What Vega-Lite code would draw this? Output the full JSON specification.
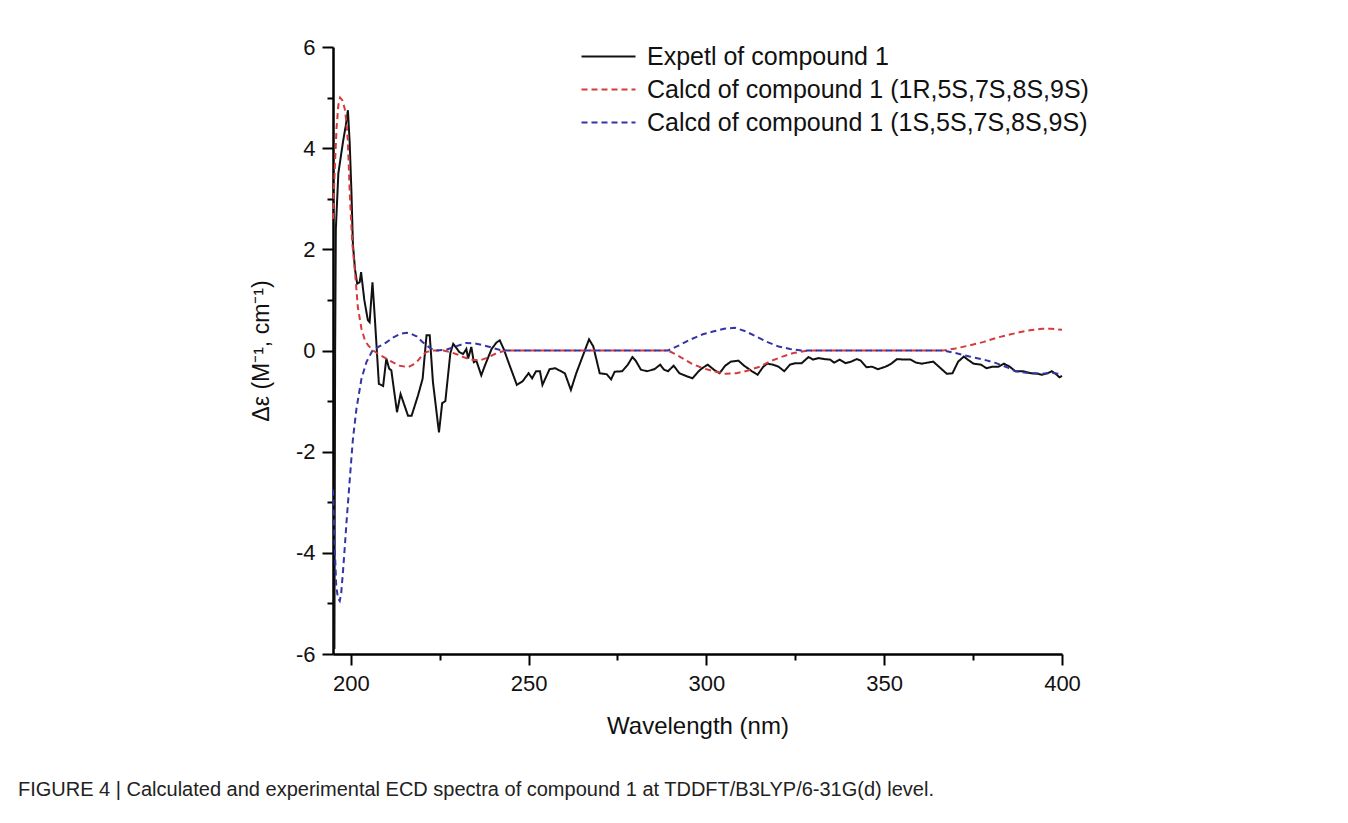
{
  "$schema": "https://vega.github.io/schema/vega-lite/v6.json",
  "width": 729,
  "height": 607,
  "autosize": {"type": "none"},
  "padding": {"left": 333, "top": 47, "right": 286, "bottom": 169},
  "background": "white",
  "config": {
    "view": {"stroke": null},
    "font": "Liberation Sans",
    "axis": {"grid": false, "domainColor": "#000", "tickColor": "#000", "labelColor": "#111", "titleColor": "#111", "labelFont": "Liberation Sans", "titleFont": "Liberation Sans", "titleFontWeight": "normal", "domainWidth": 2.5, "tickWidth": 2, "labelOverlap": false, "labelFlush": false}
  },
  "title": {
    "text": "FIGURE 4 | Calculated and experimental ECD spectra of compound 1 at TDDFT/B3LYP/6-31G(d) level.",
    "orient": "bottom",
    "anchor": "start",
    "frame": "group",
    "dx": -315,
    "offset": 42,
    "fontSize": 20,
    "fontWeight": "normal",
    "font": "Liberation Sans",
    "color": "#222"
  },
  "datasets": {
    "expt": [
      {"wavelength": 195.4, "delta": -5.9}, {"wavelength": 195.6, "delta": 0.0}, {"wavelength": 195.8, "delta": 2.4},
      {"wavelength": 196.5, "delta": 3.5}, {"wavelength": 197.8, "delta": 4.12}, {"wavelength": 198.6, "delta": 4.45},
      {"wavelength": 199.2, "delta": 4.75}, {"wavelength": 199.7, "delta": 4.1}, {"wavelength": 200.2, "delta": 3.1},
      {"wavelength": 200.6, "delta": 2.1}, {"wavelength": 201.2, "delta": 1.6}, {"wavelength": 201.8, "delta": 1.32},
      {"wavelength": 202.5, "delta": 1.35}, {"wavelength": 202.9, "delta": 1.55}, {"wavelength": 203.8, "delta": 1.0},
      {"wavelength": 204.8, "delta": 0.6}, {"wavelength": 205.3, "delta": 0.56}, {"wavelength": 206.1, "delta": 1.35},
      {"wavelength": 206.8, "delta": 0.6}, {"wavelength": 207.9, "delta": -0.66}, {"wavelength": 209.1, "delta": -0.7},
      {"wavelength": 210.0, "delta": -0.16}, {"wavelength": 210.8, "delta": -0.36}, {"wavelength": 211.4, "delta": -0.39},
      {"wavelength": 213.0, "delta": -1.22}, {"wavelength": 214.0, "delta": -0.86}, {"wavelength": 216.1, "delta": -1.29},
      {"wavelength": 217.1, "delta": -1.29}, {"wavelength": 218.9, "delta": -0.89}, {"wavelength": 220.2, "delta": -0.56},
      {"wavelength": 221.3, "delta": 0.3}, {"wavelength": 222.2, "delta": 0.3}, {"wavelength": 223.1, "delta": -0.62},
      {"wavelength": 224.8, "delta": -1.62}, {"wavelength": 225.7, "delta": -1.04}, {"wavelength": 226.6, "delta": -1.0},
      {"wavelength": 228.0, "delta": -0.05}, {"wavelength": 228.8, "delta": 0.13}, {"wavelength": 229.5, "delta": 0.07},
      {"wavelength": 230.5, "delta": -0.03}, {"wavelength": 231.6, "delta": -0.07}, {"wavelength": 232.5, "delta": 0.03},
      {"wavelength": 233.0, "delta": -0.16}, {"wavelength": 233.9, "delta": 0.07}, {"wavelength": 234.6, "delta": -0.23},
      {"wavelength": 235.3, "delta": -0.2}, {"wavelength": 236.7, "delta": -0.49}, {"wavelength": 237.7, "delta": -0.3},
      {"wavelength": 239.6, "delta": 0.03}, {"wavelength": 241.0, "delta": 0.16}, {"wavelength": 241.9, "delta": 0.2},
      {"wavelength": 243.0, "delta": 0.03}, {"wavelength": 244.7, "delta": -0.3}, {"wavelength": 246.7, "delta": -0.68},
      {"wavelength": 248.3, "delta": -0.61}, {"wavelength": 250.0, "delta": -0.45}, {"wavelength": 251.0, "delta": -0.55},
      {"wavelength": 252.1, "delta": -0.41}, {"wavelength": 253.2, "delta": -0.41}, {"wavelength": 253.9, "delta": -0.68},
      {"wavelength": 255.9, "delta": -0.37}, {"wavelength": 257.5, "delta": -0.35}, {"wavelength": 259.1, "delta": -0.41},
      {"wavelength": 260.2, "delta": -0.45}, {"wavelength": 261.9, "delta": -0.78}, {"wavelength": 263.4, "delta": -0.45},
      {"wavelength": 267.0, "delta": 0.22}, {"wavelength": 268.2, "delta": 0.08}, {"wavelength": 270.0, "delta": -0.45},
      {"wavelength": 272.0, "delta": -0.47}, {"wavelength": 273.2, "delta": -0.57}, {"wavelength": 274.2, "delta": -0.42},
      {"wavelength": 276.3, "delta": -0.41}, {"wavelength": 277.9, "delta": -0.28}, {"wavelength": 279.2, "delta": -0.13},
      {"wavelength": 280.1, "delta": -0.2}, {"wavelength": 281.6, "delta": -0.38}, {"wavelength": 283.3, "delta": -0.41},
      {"wavelength": 285.4, "delta": -0.37}, {"wavelength": 287.0, "delta": -0.28}, {"wavelength": 288.1, "delta": -0.38},
      {"wavelength": 289.2, "delta": -0.41}, {"wavelength": 290.8, "delta": -0.3}, {"wavelength": 292.4, "delta": -0.45},
      {"wavelength": 294.5, "delta": -0.51}, {"wavelength": 296.1, "delta": -0.55}, {"wavelength": 297.8, "delta": -0.41},
      {"wavelength": 298.8, "delta": -0.35}, {"wavelength": 300.4, "delta": -0.28}, {"wavelength": 302.1, "delta": -0.38},
      {"wavelength": 303.7, "delta": -0.45}, {"wavelength": 305.3, "delta": -0.3}, {"wavelength": 306.9, "delta": -0.22},
      {"wavelength": 309.0, "delta": -0.2}, {"wavelength": 310.6, "delta": -0.3}, {"wavelength": 312.8, "delta": -0.41},
      {"wavelength": 314.4, "delta": -0.48}, {"wavelength": 316.0, "delta": -0.32}, {"wavelength": 317.1, "delta": -0.26},
      {"wavelength": 318.7, "delta": -0.28}, {"wavelength": 320.3, "delta": -0.32}, {"wavelength": 321.9, "delta": -0.41},
      {"wavelength": 323.5, "delta": -0.28}, {"wavelength": 325.1, "delta": -0.25}, {"wavelength": 326.8, "delta": -0.25},
      {"wavelength": 328.7, "delta": -0.13}, {"wavelength": 330.0, "delta": -0.18}, {"wavelength": 331.6, "delta": -0.15},
      {"wavelength": 333.2, "delta": -0.17}, {"wavelength": 334.8, "delta": -0.18}, {"wavelength": 335.9, "delta": -0.24},
      {"wavelength": 337.5, "delta": -0.18}, {"wavelength": 339.1, "delta": -0.25}, {"wavelength": 340.7, "delta": -0.22},
      {"wavelength": 342.3, "delta": -0.17}, {"wavelength": 343.4, "delta": -0.2}, {"wavelength": 345.0, "delta": -0.33},
      {"wavelength": 346.6, "delta": -0.32}, {"wavelength": 348.2, "delta": -0.37}, {"wavelength": 350.4, "delta": -0.32},
      {"wavelength": 352.0, "delta": -0.26}, {"wavelength": 353.6, "delta": -0.17}, {"wavelength": 355.8, "delta": -0.18},
      {"wavelength": 357.4, "delta": -0.18}, {"wavelength": 359.0, "delta": -0.24}, {"wavelength": 360.6, "delta": -0.26},
      {"wavelength": 362.2, "delta": -0.24}, {"wavelength": 363.8, "delta": -0.22}, {"wavelength": 365.4, "delta": -0.32},
      {"wavelength": 367.6, "delta": -0.46}, {"wavelength": 369.2, "delta": -0.45}, {"wavelength": 370.8, "delta": -0.22},
      {"wavelength": 372.4, "delta": -0.12}, {"wavelength": 373.5, "delta": -0.18}, {"wavelength": 375.1, "delta": -0.26},
      {"wavelength": 377.2, "delta": -0.28}, {"wavelength": 378.8, "delta": -0.35}, {"wavelength": 380.5, "delta": -0.32},
      {"wavelength": 382.1, "delta": -0.32}, {"wavelength": 383.7, "delta": -0.26}, {"wavelength": 385.3, "delta": -0.32},
      {"wavelength": 386.9, "delta": -0.41}, {"wavelength": 389.1, "delta": -0.41}, {"wavelength": 391.2, "delta": -0.45},
      {"wavelength": 393.3, "delta": -0.46}, {"wavelength": 394.4, "delta": -0.48}, {"wavelength": 396.0, "delta": -0.45},
      {"wavelength": 397.1, "delta": -0.41}, {"wavelength": 398.2, "delta": -0.46}, {"wavelength": 399.3, "delta": -0.53},
      {"wavelength": 400.0, "delta": -0.5}
    ],
    "calcR": [
      {"wavelength": 195.0, "delta": 2.6}, {"wavelength": 195.5, "delta": 3.6}, {"wavelength": 196.0, "delta": 4.4},
      {"wavelength": 196.5, "delta": 4.85}, {"wavelength": 197.0, "delta": 5.0}, {"wavelength": 197.6, "delta": 4.95},
      {"wavelength": 198.3, "delta": 4.78}, {"wavelength": 198.8, "delta": 4.5}, {"wavelength": 199.2, "delta": 4.1},
      {"wavelength": 199.7, "delta": 3.13}, {"wavelength": 200.4, "delta": 2.14}, {"wavelength": 201.1, "delta": 1.62},
      {"wavelength": 201.6, "delta": 1.2}, {"wavelength": 202.0, "delta": 0.85}, {"wavelength": 203.0, "delta": 0.43},
      {"wavelength": 204.0, "delta": 0.2}, {"wavelength": 204.9, "delta": 0.1}, {"wavelength": 206.3, "delta": 0.0},
      {"wavelength": 208.0, "delta": -0.08}, {"wavelength": 210.0, "delta": -0.16}, {"wavelength": 212.0, "delta": -0.24},
      {"wavelength": 213.8, "delta": -0.3}, {"wavelength": 216.1, "delta": -0.33}, {"wavelength": 217.5, "delta": -0.28},
      {"wavelength": 218.9, "delta": -0.2}, {"wavelength": 220.0, "delta": -0.1}, {"wavelength": 221.3, "delta": -0.03},
      {"wavelength": 223.0, "delta": 0.0}, {"wavelength": 226.0, "delta": 0.0}, {"wavelength": 228.0, "delta": -0.03},
      {"wavelength": 230.0, "delta": -0.08}, {"wavelength": 232.0, "delta": -0.14}, {"wavelength": 234.5, "delta": -0.19},
      {"wavelength": 236.5, "delta": -0.19}, {"wavelength": 238.5, "delta": -0.14}, {"wavelength": 240.5, "delta": -0.07},
      {"wavelength": 242.5, "delta": -0.02}, {"wavelength": 244.0, "delta": 0.0}, {"wavelength": 289.2, "delta": 0.0},
      {"wavelength": 292.0, "delta": -0.1}, {"wavelength": 295.6, "delta": -0.25}, {"wavelength": 299.0, "delta": -0.35},
      {"wavelength": 302.1, "delta": -0.41}, {"wavelength": 305.3, "delta": -0.46}, {"wavelength": 308.5, "delta": -0.45},
      {"wavelength": 311.5, "delta": -0.4}, {"wavelength": 315.0, "delta": -0.32}, {"wavelength": 318.0, "delta": -0.21},
      {"wavelength": 321.4, "delta": -0.12}, {"wavelength": 324.5, "delta": -0.05}, {"wavelength": 327.8, "delta": -0.01},
      {"wavelength": 330.0, "delta": 0.0}, {"wavelength": 366.5, "delta": 0.0}, {"wavelength": 370.0, "delta": 0.04},
      {"wavelength": 374.0, "delta": 0.1}, {"wavelength": 378.0, "delta": 0.17}, {"wavelength": 381.5, "delta": 0.25},
      {"wavelength": 385.0, "delta": 0.31}, {"wavelength": 388.0, "delta": 0.36}, {"wavelength": 391.0, "delta": 0.4},
      {"wavelength": 394.4, "delta": 0.43}, {"wavelength": 397.0, "delta": 0.43}, {"wavelength": 400.0, "delta": 0.41}
    ],
    "calcS": [
      {"wavelength": 195.0, "delta": -2.75}, {"wavelength": 195.5, "delta": -3.9}, {"wavelength": 195.9, "delta": -4.65},
      {"wavelength": 196.4, "delta": -4.9}, {"wavelength": 196.9, "delta": -4.95}, {"wavelength": 197.3, "delta": -4.8},
      {"wavelength": 197.8, "delta": -4.38}, {"wavelength": 198.3, "delta": -3.9}, {"wavelength": 198.8, "delta": -3.39},
      {"wavelength": 199.5, "delta": -2.75}, {"wavelength": 200.1, "delta": -2.2}, {"wavelength": 200.6, "delta": -1.75},
      {"wavelength": 201.6, "delta": -1.15}, {"wavelength": 203.0, "delta": -0.56}, {"wavelength": 204.4, "delta": -0.23},
      {"wavelength": 206.1, "delta": 0.0}, {"wavelength": 208.0, "delta": 0.08}, {"wavelength": 210.0, "delta": 0.16},
      {"wavelength": 212.0, "delta": 0.26}, {"wavelength": 214.0, "delta": 0.33}, {"wavelength": 215.7, "delta": 0.35},
      {"wavelength": 217.0, "delta": 0.33}, {"wavelength": 218.5, "delta": 0.28}, {"wavelength": 220.0, "delta": 0.18},
      {"wavelength": 221.3, "delta": 0.1}, {"wavelength": 222.8, "delta": 0.03}, {"wavelength": 224.1, "delta": 0.0},
      {"wavelength": 227.0, "delta": 0.02}, {"wavelength": 229.5, "delta": 0.08}, {"wavelength": 232.5, "delta": 0.15},
      {"wavelength": 235.0, "delta": 0.14}, {"wavelength": 237.5, "delta": 0.1}, {"wavelength": 240.0, "delta": 0.05},
      {"wavelength": 242.0, "delta": 0.01}, {"wavelength": 244.0, "delta": 0.0}, {"wavelength": 289.2, "delta": 0.0},
      {"wavelength": 292.0, "delta": 0.09}, {"wavelength": 295.6, "delta": 0.22}, {"wavelength": 299.0, "delta": 0.32},
      {"wavelength": 302.1, "delta": 0.38}, {"wavelength": 305.0, "delta": 0.43}, {"wavelength": 308.0, "delta": 0.45},
      {"wavelength": 311.0, "delta": 0.38}, {"wavelength": 313.9, "delta": 0.28}, {"wavelength": 317.0, "delta": 0.17},
      {"wavelength": 320.3, "delta": 0.08}, {"wavelength": 323.5, "delta": 0.03}, {"wavelength": 326.8, "delta": 0.0},
      {"wavelength": 366.5, "delta": 0.0}, {"wavelength": 370.0, "delta": -0.05}, {"wavelength": 374.0, "delta": -0.12},
      {"wavelength": 378.0, "delta": -0.18}, {"wavelength": 381.5, "delta": -0.25}, {"wavelength": 384.5, "delta": -0.33},
      {"wavelength": 386.9, "delta": -0.41}, {"wavelength": 390.0, "delta": -0.44}, {"wavelength": 394.4, "delta": -0.46},
      {"wavelength": 397.0, "delta": -0.44}, {"wavelength": 399.3, "delta": -0.46}, {"wavelength": 400.0, "delta": -0.47}
    ]
  },
  "encoding": {
    "x": {
      "field": "wavelength",
      "type": "quantitative",
      "scale": {"domain": [195, 400], "nice": false, "zero": false},
      "axis": {
        "title": "Wavelength (nm)",
        "values": [200, 225, 250, 275, 300, 325, 350, 375, 400],
        "labelExpr": "datum.value % 50 === 0 ? '' + datum.value : ''",
        "tickSize": {"condition": {"test": "datum.value % 50 === 0", "value": 11}, "value": 6},
        "labelFontSize": 22,
        "labelPadding": 8,
        "titleFontSize": 24,
        "titlePadding": 20
      }
    },
    "y": {
      "field": "delta",
      "type": "quantitative",
      "scale": {"domain": [-6, 6], "nice": false, "zero": false},
      "axis": {
        "title": "Δε (M⁻¹, cm⁻¹)",
        "values": [-6, -5, -4, -3, -2, -1, 0, 1, 2, 3, 4, 5, 6],
        "labelExpr": "datum.value % 2 === 0 ? '' + datum.value : ''",
        "tickSize": {"condition": {"test": "datum.value % 2 === 0", "value": 11}, "value": 6},
        "labelFontSize": 22,
        "labelPadding": 7,
        "titleFontSize": 23,
        "titlePadding": 22
      }
    }
  },
  "layer": [
    {
      "data": {"name": "expt"},
      "mark": {"type": "line", "strokeWidth": 2},
      "encoding": {
        "color": {
          "datum": "Expetl of compound 1",
          "type": "nominal",
          "scale": {
            "domain": ["Expetl of compound 1", "Calcd of compound 1 (1R,5S,7S,8S,9S)", "Calcd of compound 1 (1S,5S,7S,8S,9S)"],
            "range": ["#111111", "#d63a3a", "#3434a6"]
          },
          "legend": {"title": null, "orient": "none", "legendX": 263, "legendY": -3, "symbolType": "M-3,0H3", "symbolSize": 324, "symbolStrokeWidth": 2, "labelFontSize": 25, "labelOffset": 26, "labelLimit": 800, "rowPadding": 7, "padding": 0, "labelColor": "#111", "labelFont": "Liberation Sans"}
        },
        "strokeDash": {
          "datum": "Expetl of compound 1",
          "type": "nominal",
          "scale": {
            "domain": ["Expetl of compound 1", "Calcd of compound 1 (1R,5S,7S,8S,9S)", "Calcd of compound 1 (1S,5S,7S,8S,9S)"],
            "range": [[1, 0], [6, 4], [6, 4]]
          },
          "legend": {"title": null, "orient": "none", "legendX": 263, "legendY": -3, "symbolType": "M-3,0H3", "symbolSize": 324, "symbolStrokeWidth": 2, "labelFontSize": 25, "labelOffset": 26, "labelLimit": 800, "rowPadding": 7, "padding": 0, "labelColor": "#111", "labelFont": "Liberation Sans"}
        }
      }
    },
    {
      "data": {"name": "calcR"},
      "mark": {"type": "line", "strokeWidth": 2},
      "encoding": {
        "color": {"datum": "Calcd of compound 1 (1R,5S,7S,8S,9S)", "type": "nominal"},
        "strokeDash": {"datum": "Calcd of compound 1 (1R,5S,7S,8S,9S)", "type": "nominal"}
      }
    },
    {
      "data": {"name": "calcS"},
      "mark": {"type": "line", "strokeWidth": 2},
      "encoding": {
        "color": {"datum": "Calcd of compound 1 (1S,5S,7S,8S,9S)", "type": "nominal"},
        "strokeDash": {"datum": "Calcd of compound 1 (1S,5S,7S,8S,9S)", "type": "nominal"}
      }
    }
  ]
}
